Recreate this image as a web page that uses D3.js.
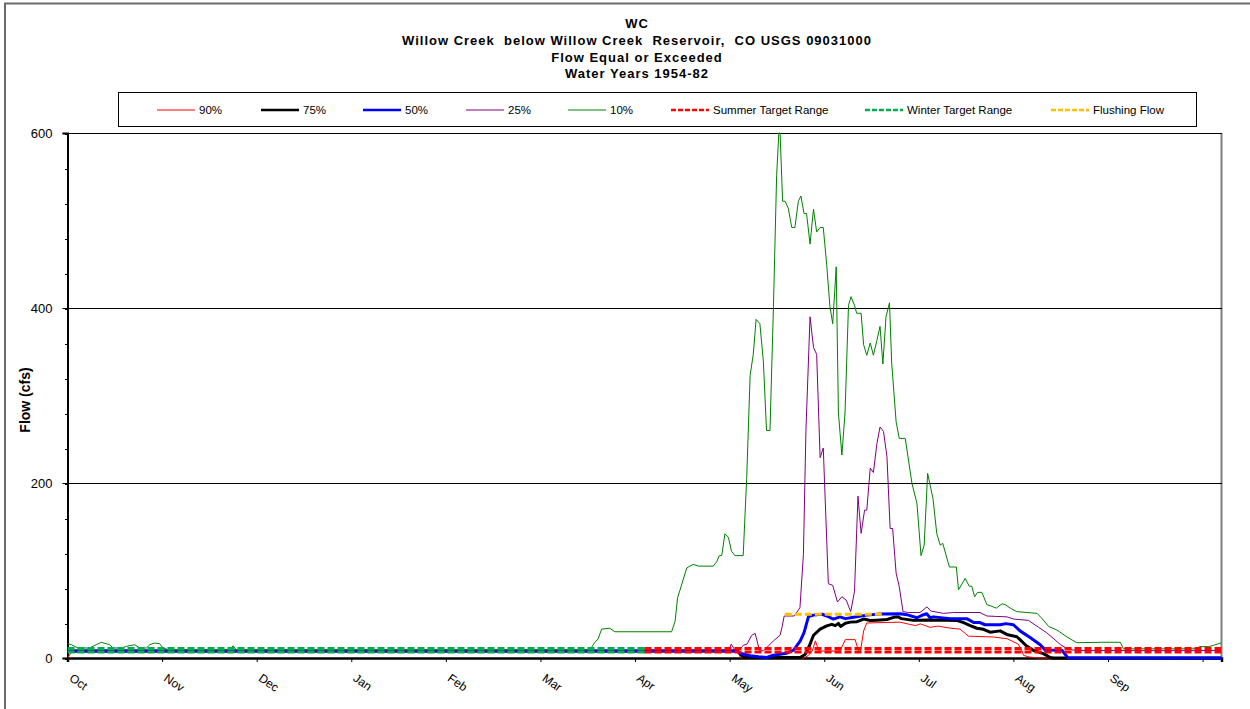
<!DOCTYPE html>
<html><head><meta charset="utf-8">
<script src="https://cdn.jsdelivr.net/npm/d3@7"></script>
<style>
body{margin:0;background:#fff}
svg{display:block}
text{font-family:"Liberation Sans",Arial,Helvetica,sans-serif;fill:#000}
.title{white-space:pre}
</style>
</head><body>
<svg id="chart" width="1250" height="709"></svg>
<script>
// ---------------- data ----------------
const titleLines = ["WC", "Willow Creek  below Willow Creek  Reservoir,  CO USGS 09031000", "Flow Equal or Exceeded", "Water Years 1954-82"];
const yAxisTitle = "Flow (cfs)";
const monthLabels = ["Oct","Nov","Dec","Jan","Feb","Mar","Apr","May","Jun","Jul","Aug","Sep"];
const xTickDays = [0,30,60,90,120,150,180,210,240,270,300,330,360];
const yTickValues = [0,200,400,600];
const yMinorStep = 40;
const dayCount = 366;
const flowMax = 600;

// [day of water year, flow cfs]
const p90 = [[0,0],[1.5,8],[212.5,8],[213.5,0],[233.5,0],[235,3],[236.2,8],[237.2,19.6],[238.3,8],[245,8],[246.7,21],[249.8,21],[250.9,8],[251.5,8],[252.5,31],[253.5,40],[264,41],[267,38.5],[269,37],[270.5,39],[273.6,35],[276,36.5],[280.2,34],[283.1,33],[285.7,25],[293.7,24],[298,22],[301.5,16],[302.5,10],[303.2,3],[305,1.2],[308,0],[366,0]];
const p75 = [[0,8],[212.5,8],[214.4,0.5],[232.4,0.5],[234,4.4],[235.3,14],[236.6,26],[238.7,33],[240.8,36.7],[242.4,38.5],[243.5,37],[244.5,39.6],[245.2,36],[246.7,39.7],[248.3,41],[250.4,41.5],[252.5,44.5],[254.6,42.8],[256.7,43.2],[259.9,44],[262,46.5],[263.3,47],[264.5,45],[268.3,43],[272.6,43.4],[278.9,43],[282,43],[284.2,40.4],[286.3,37],[288.4,34],[290.5,32.8],[292.6,29.5],[295.8,31],[298.2,26.5],[301.1,24.3],[302.1,21],[304,14.3],[306.4,8.6],[309.5,5],[311.7,0.5],[312.8,0],[366,0]];
const p50 = [[0,8],[212.3,8],[213.3,5.5],[216.5,2.5],[219.2,1.3],[221.8,0.6],[223.9,3.2],[228.1,5.5],[230.3,9],[232.4,19.6],[233.6,29],[235,47.4],[236.6,49],[239.3,50],[240.8,48],[242.9,44.5],[245,47],[246.7,45],[249.3,46.5],[253.5,49],[257.7,50.3],[264.1,50.5],[266.2,49.5],[269.4,46],[271.5,49.5],[272.5,50.5],[273.6,46],[274.6,47],[280,45],[285.2,45],[287.4,40.5],[289.4,40.5],[291,38],[295.8,38],[297.6,39.3],[300,38],[302.1,31],[305.3,23.5],[308.5,15.2],[310.1,9],[315.4,8.8],[317.3,0.2],[366,0]];
const p25 = [[0,8],[209.6,8],[210.5,15.8],[211.5,10],[212.8,8.2],[214.4,14.7],[215.5,15.8],[217,26],[218.1,28],[219.5,8.2],[220.7,8.2],[221.8,12],[223.9,19.6],[226,26],[226.6,35],[227.3,48],[230.5,48],[232.3,57.5],[233.4,118.5],[234.2,260],[235.5,390],[236.6,355],[237.6,347],[238.7,229],[239.7,240],[241.3,85],[242.7,83],[244.2,64],[245.6,70],[247,66],[248.4,53],[249.6,76],[250.7,185],[251.7,142.5],[252.8,169],[253.5,169],[254.6,217],[255.6,212],[256.7,245],[257.7,264],[258.8,259],[259.9,230],[260.9,148],[261.7,148],[262.8,97],[263.8,81.5],[265,53],[266.7,52],[270.4,52],[272.6,58.5],[273.8,53.7],[277.8,51],[281,52],[289.4,52],[291.6,48],[298,47],[300.1,44.5],[304.8,43],[308,35],[310.5,29],[312.8,22],[315,15],[317.5,10],[320,8.5],[366,8.5]];
const p10 = [[0,16.4],[1.2,15.2],[3.3,11.4],[7,11.4],[9.1,15.2],[10.7,17.9],[13.4,15.2],[14.4,11.4],[17.1,11.4],[18.7,13.3],[21.3,15.2],[22.9,11.4],[25,11.4],[26.1,15.2],[27.6,17.1],[29.2,16.4],[30.3,11.4],[32,9.5],[51.5,9.5],[52.5,14],[53.5,9.5],[165.7,9.5],[167.3,18],[168.3,22],[169.4,33],[172,34],[173.6,30],[191.6,30],[192.7,42],[193.5,69],[194.2,77],[196.4,103],[197.4,105],[198.5,107],[200.1,105],[204.8,105],[205.9,110],[206.7,117],[207.5,117],[208.5,142],[209.6,138],[210.6,122],[211.7,117],[214.3,117],[215.4,205],[216.5,323],[217.5,347],[218.4,387],[219.6,382],[220.7,339],[221.7,260],[222.8,260],[223.9,402],[224.9,551],[225.6,600],[226,600],[226.8,522],[227.6,522],[228.6,514],[229.7,492],[230.7,492],[231.8,522],[232.6,528],[233.6,508],[234.4,508],[235.5,473],[236.6,513],[237.6,487],[238.7,492],[239.7,492],[240.8,449],[241.8,402],[242.7,382],[243.8,447],[244.5,280],[245.6,232],[246.6,280],[247.7,403],[248.5,413],[249.6,403],[250.3,394],[251.7,394],[252.5,358],[253.5,346],[254.6,360],[255.6,346],[256.7,363],[257.7,379],[258.6,336],[259.6,390],[260.7,406],[261.4,337],[262.8,270],[263.8,251],[265.7,251],[267.8,200],[269.4,177],[270.7,117],[271.7,129],[272.8,211],[274.5,182],[275.7,142],[276.8,129],[277.6,131],[279.7,104],[281.9,104],[282.6,78],[284.7,91],[286,82],[286.8,82],[287.7,70],[288.6,75],[290,75],[291.6,61],[293.2,59],[294.6,57],[296.4,62],[297.4,61],[299,57],[301.1,53],[307.5,51],[309.1,45],[311.2,36],[313.8,32],[317,24],[320.1,17.5],[328,18],[333.9,18],[334.9,10.5],[358,10.5],[359,13],[362,13],[363.5,14.5],[366,17.5]];

const summerDays = [183, 366];
const summerRange = [7, 11];
const winterDays = [0, 183];
const winterRange = [7, 11];
const flushingDays = [227.5, 258.5];
const flushingFlow = [50];

const legendLabels = ["90%","75%","50%","25%","10%","Summer Target Range","Winter Target Range","Flushing Flow"];

// ---------------- layout / style ----------------
const M = {left: 67.5, right: 1221.5, top: 133, bottom: 658};
const styles = {
  "90%": {color: "#FF0000", width: 1, dash: null},
  "75%": {color: "#000000", width: 3, dash: null},
  "50%": {color: "#0000FF", width: 3, dash: null},
  "25%": {color: "#800080", width: 1, dash: null},
  "10%": {color: "#008000", width: 1, dash: null},
  "Summer Target Range": {color: "#FF0000", width: 3, dash: "7,3"},
  "Winter Target Range": {color: "#00B050", width: 3, dash: "7,3"},
  "Flushing Flow": {color: "#FFC000", width: 3, dash: "7,3"}
};
const legendLineX = [157, 261, 363, 466, 568, 671, 865, 1051];

const svg = d3.select("#chart");
const x = d3.scaleLinear().domain([0, dayCount]).range([M.left, M.right]);
const y = d3.scaleLinear().domain([0, flowMax]).range([M.bottom, M.top]);

// outer frame (only top & left visible)
svg.append("rect").attr("x", 5).attr("y", 3.5).attr("width", 1400).attr("height", 900)
  .attr("fill", "none").attr("stroke", "#6b6b6b").attr("stroke-width", 2);

// title
const titleY = [28.3, 45, 61.7, 78.3];
svg.selectAll("text.title").data(titleLines).enter().append("text")
  .attr("class", "title").attr("x", 637).attr("y", (d, i) => titleY[i])
  .attr("text-anchor", "middle").attr("font-weight", "bold").attr("font-size", "13px")
  .attr("letter-spacing", "1px")
  .text(d => d);

// legend
svg.append("rect").attr("x", 118.5).attr("y", 92.5).attr("width", 1078).attr("height", 34)
  .attr("fill", "#fff").attr("stroke", "#000").attr("stroke-width", 1);
const lg = svg.selectAll("g.leg").data(legendLabels).enter().append("g").attr("class", "leg");
lg.append("line")
  .attr("x1", (d, i) => legendLineX[i]).attr("x2", (d, i) => legendLineX[i] + 38)
  .attr("y1", 110).attr("y2", 110)
  .attr("stroke", d => styles[d].color)
  .attr("stroke-width", d => Math.min(styles[d].width, 2.5))
  .attr("stroke-dasharray", d => styles[d].dash ? "5,2" : null);
lg.append("text").attr("x", (d, i) => legendLineX[i] + 42).attr("y", 114)
  .attr("font-size", "11.5px").text(d => d);

// plot area right border
svg.append("line").attr("x1", M.right).attr("x2", M.right).attr("y1", M.top).attr("y2", M.bottom)
  .attr("stroke", "#808080").attr("stroke-width", 2);

// gridlines
svg.append("g").selectAll("line").data(yTickValues.filter(v => v > 0)).enter().append("line")
  .attr("x1", M.left).attr("x2", M.right).attr("y1", d => y(d) + 0.5).attr("y2", d => y(d) + 0.5)
  .attr("stroke", "#000").attr("stroke-width", 1).attr("shape-rendering", "crispEdges");

// y axis
const yMinor = d3.range(0, flowMax + 1, yMinorStep);
svg.append("g").attr("transform", `translate(${M.left},0.5)`)
  .call(d3.axisLeft(y).tickValues(yMinor).tickSize(3).tickFormat(""))
  .call(g => { g.select(".domain").remove(); g.selectAll("line").attr("stroke", "#000").attr("shape-rendering", "crispEdges"); });
const yAxis = svg.append("g").attr("transform", `translate(${M.left},0)`)
  .call(d3.axisLeft(y).tickValues(yTickValues).tickSize(5).tickPadding(10).tickFormat(d3.format("d")));
yAxis.select(".domain").attr("stroke", "#000").attr("stroke-width", 2);
yAxis.selectAll("text").attr("font-size", "13px").attr("font-family", "Liberation Sans, Arial, sans-serif").attr("fill", "#000");
yAxis.selectAll("line").attr("stroke", "#000");

svg.append("text").attr("transform", "translate(30,400) rotate(-90)")
  .attr("text-anchor", "middle").attr("font-weight", "bold").attr("font-size", "14px")
  .text(yAxisTitle);

// x axis
const xAxis = svg.append("g").attr("transform", `translate(0,${M.bottom})`)
  .call(d3.axisBottom(x).tickValues(xTickDays).tickSize(4).tickFormat(""));
xAxis.select(".domain").attr("stroke", "#000").attr("stroke-width", 2.5);
xAxis.selectAll("line").attr("stroke", "#000");
svg.selectAll("text.month").data(monthLabels).enter().append("text")
  .attr("class", "month")
  .attr("transform", (d, i) => `translate(${x(xTickDays[i]) + 1},680) rotate(35)`)
  .attr("font-size", "12px").text(d => d);

// clip
svg.append("clipPath").attr("id", "plotclip").append("rect")
  .attr("x", M.left).attr("y", M.top - 2).attr("width", M.right - M.left).attr("height", M.bottom - M.top + 4);
const plot = svg.append("g").attr("clip-path", "url(#plotclip)");

const line = d3.line().x(d => x(d[0])).y(d => y(d[1]));
const seriesData = {"90%": p90, "75%": p75, "50%": p50, "25%": p25, "10%": p10};
["90%","75%","50%","25%","10%"].forEach(k => {
  plot.append("path").datum(seriesData[k]).attr("d", line)
    .attr("fill", "none").attr("stroke", styles[k].color).attr("stroke-width", styles[k].width)
    .attr("stroke-linejoin", "round");
});

function rangeLines(days, vals, key) {
  vals.forEach(v => {
    plot.append("path").datum(days.map(d => [d, v])).attr("d", line)
      .attr("fill", "none").attr("stroke", styles[key].color).attr("stroke-width", styles[key].width)
      .attr("stroke-dasharray", styles[key].dash);
  });
}
rangeLines(summerDays, summerRange, "Summer Target Range");
rangeLines(winterDays, winterRange, "Winter Target Range");
rangeLines(flushingDays, flushingFlow, "Flushing Flow");
</script>
</body></html>
